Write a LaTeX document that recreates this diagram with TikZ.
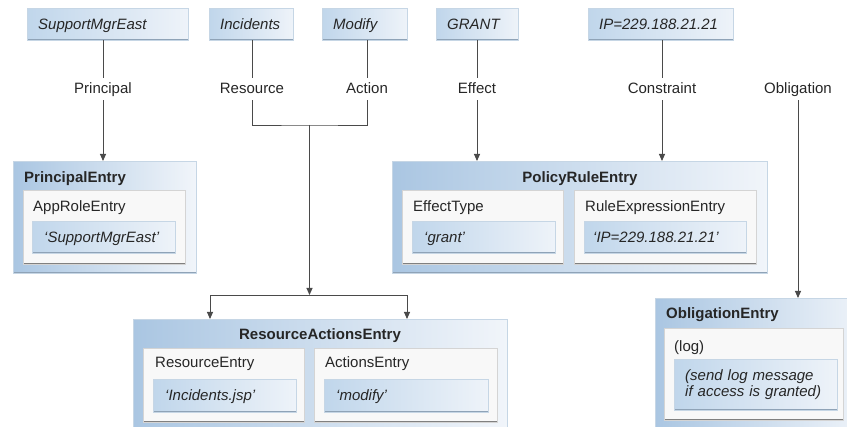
\documentclass[tikz,border=0pt]{standalone}
\usepackage{fontspec}
\setmainfont{Liberation Sans}
\usetikzlibrary{arrows.meta}
\definecolor{blueL}{HTML}{AAC6E2}
\definecolor{blueR}{HTML}{F1F5FA}
\definecolor{vblueL}{HTML}{C0D6EB}
\definecolor{vblueR}{HTML}{EEF3F9}
\definecolor{edgeL}{HTML}{C6D6E5}
\definecolor{edgeD}{HTML}{8FA3B7}
\definecolor{whiteF}{HTML}{F8F8F8}
\definecolor{greyL}{HTML}{D4D4D4}
\definecolor{greyD}{HTML}{808080}
\definecolor{lineC}{HTML}{4A4A4A}
\definecolor{txtC}{HTML}{262626}
\tikzset{
  every node/.style={font=\fontsize{15}{15.5}\selectfont, text=txtC},
  onetext/.style={text height=11pt, text depth=1pt},
  darkedge/.style={path picture={\draw[#1, line width=2pt]
      (path picture bounding box.north west) -- (path picture bounding box.south west)
      -- (path picture bounding box.south east);}},
  darkbottom/.style={path picture={\draw[#1, line width=2pt]
      (path picture bounding box.south west) -- (path picture bounding box.south east);}},
  outerbox/.style={draw=edgeL, left color=blueL, right color=blueR, darkbottom=edgeD,
      anchor=north west, inner sep=0pt},
  whitebox/.style={draw=greyL, fill=whiteF, darkedge=greyD, anchor=north west, inner sep=0pt},
  topbox/.style={draw=edgeL, left color=vblueL, right color=vblueR, darkedge=edgeD,
      anchor=north west, inner xsep=11pt, inner ysep=0pt, minimum height=32pt,
      align=left, onetext, font=\fontsize{15}{15.5}\selectfont\itshape},
  valbox/.style={draw=edgeL, left color=vblueL, right color=vblueR, darkedge=edgeD,
      anchor=north west, inner xsep=12pt, inner ysep=0pt, align=left,
      font=\fontsize{15}{15.5}\selectfont\itshape},
  titletext/.style={font=\fontsize{15}{15.5}\selectfont\bfseries, inner sep=0pt, onetext},
  plaintext/.style={inner sep=0pt, anchor=west, onetext},
  lab/.style={inner sep=0pt, minimum height=22pt, onetext},
  ln/.style={draw=lineC, line width=0.9pt},
  arr/.style={ln, -{Triangle[length=7pt,width=6pt]}},
}
\begin{document}
\begin{tikzpicture}[x=1pt, y=-1pt]
\useasboundingbox (0,0) rectangle (847,427);
\clip (0,0) rectangle (847,427);

% top value boxes
\node[topbox, minimum width=161pt, text width=139pt] (sme) at (27,8) {SupportMgrEast};
\node[topbox, minimum width=84pt, text width=62pt] (inc) at (209,8) {Incidents};
\node[topbox, minimum width=85pt, text width=63pt] (mod) at (322,8) {Modify};
\node[topbox, minimum width=82pt, text width=60pt] (gra) at (436,8) {GRANT};
\node[topbox, minimum width=145pt, text width=123pt] (ipa) at (588,8) {IP=229.188.21.21};

% PrincipalEntry
\node[outerbox, minimum width=183pt, minimum height=112pt] (pe) at (13,161) {};
\node[titletext, anchor=west] (pet) at (24,178) {PrincipalEntry};
\node[whitebox, minimum width=162pt, minimum height=74pt] (arw) at (23,190) {};
\node[plaintext] (art) at (33,207) {AppRoleEntry};
\node[valbox, onetext, minimum width=143pt, text width=119pt, minimum height=32pt] (v1) at (32,221) {‘SupportMgrEast’};

% PolicyRuleEntry
\node[outerbox, minimum width=375pt, minimum height=112pt] (pre) at (392,161) {};
\node[titletext] (pret) at (580,178) {PolicyRuleEntry};
\node[whitebox, minimum width=161pt, minimum height=74pt] (etw) at (402,190) {};
\node[plaintext] (ett) at (413,207) {EffectType};
\node[valbox, onetext, minimum width=143pt, text width=119pt, minimum height=32pt] (v2) at (412,221) {‘grant’};
\node[whitebox, minimum width=182pt, minimum height=74pt] (rew) at (574,190) {};
\node[plaintext] (ret) at (585,207) {RuleExpressionEntry};
\node[valbox, onetext, minimum width=162pt, text width=144pt, minimum height=32pt, inner xsep=9pt] (v3) at (584,221) {‘IP=229.188.21.21’};

% ResourceActionsEntry
\node[outerbox, minimum width=374pt, minimum height=130pt] (rae) at (133,319) {};
\node[titletext] (raet) at (320,335) {ResourceActionsEntry};
\node[whitebox, minimum width=161pt, minimum height=74pt] (rsw) at (143,348) {};
\node[plaintext] (rst) at (155,363) {ResourceEntry};
\node[valbox, onetext, minimum width=143pt, text width=119pt, minimum height=33pt] (v4) at (153,379) {‘Incidents.jsp’};
\node[whitebox, minimum width=183pt, minimum height=74pt] (acw) at (314,348) {};
\node[plaintext] (act) at (325,363) {ActionsEntry};
\node[valbox, onetext, minimum width=164pt, text width=140pt, minimum height=33pt] (v5) at (324,379) {‘modify’};

% ObligationEntry
\node[outerbox, minimum width=215pt, minimum height=150pt] (obe) at (655,298) {};
\node[titletext, anchor=west] (obet) at (666,314) {ObligationEntry};
\node[whitebox, minimum width=179pt, minimum height=92pt] (lgw) at (664,328) {};
\node[plaintext] (lgt) at (674,347) {(log)};
\node[valbox, minimum width=163pt, text width=141pt, minimum height=51pt, inner xsep=11pt] (v6) at (674,359) {(send log message\\if access is granted)};

% labels
\node[lab] (lp) at (103,89) {Principal};
\node[lab] (lr) at (252,89) {Resource};
\node[lab] (la) at (367,89) {Action};
\node[lab] (le) at (477,89) {Effect};
\node[lab] (lc) at (662,89) {Constraint};
\node[lab] (lo) at (798,89) {Obligation};

% connectors
\draw[ln] (sme.south -| lp) -- (lp.north);
\draw[arr] (lp.south) -- (pe.north -| lp);

\draw[ln] (inc.south -| lr) -- (lr.north);
\draw[ln] (mod.south -| la) -- (la.north);
\coordinate (jn) at (309.5,125);
\coordinate (jb) at (309.5,295);
\coordinate (ra1) at (210,319);
\coordinate (ra2) at (407,319);
\draw[ln] (lr.south) |- (jn) -| (la.south);
\draw[arr] (jn) -- (jb);
\draw[arr] (jb) -| (ra1);
\draw[arr] (jb) -| (ra2);

\draw[ln] (gra.south -| le) -- (le.north);
\draw[arr] (le.south) -- (pre.north -| le);
\draw[ln] (ipa.south -| lc) -- (lc.north);
\draw[arr] (lc.south) -- (pre.north -| lc);
\draw[arr] (lo.south) -- (obe.north -| lo);
\end{tikzpicture}
\end{document}
